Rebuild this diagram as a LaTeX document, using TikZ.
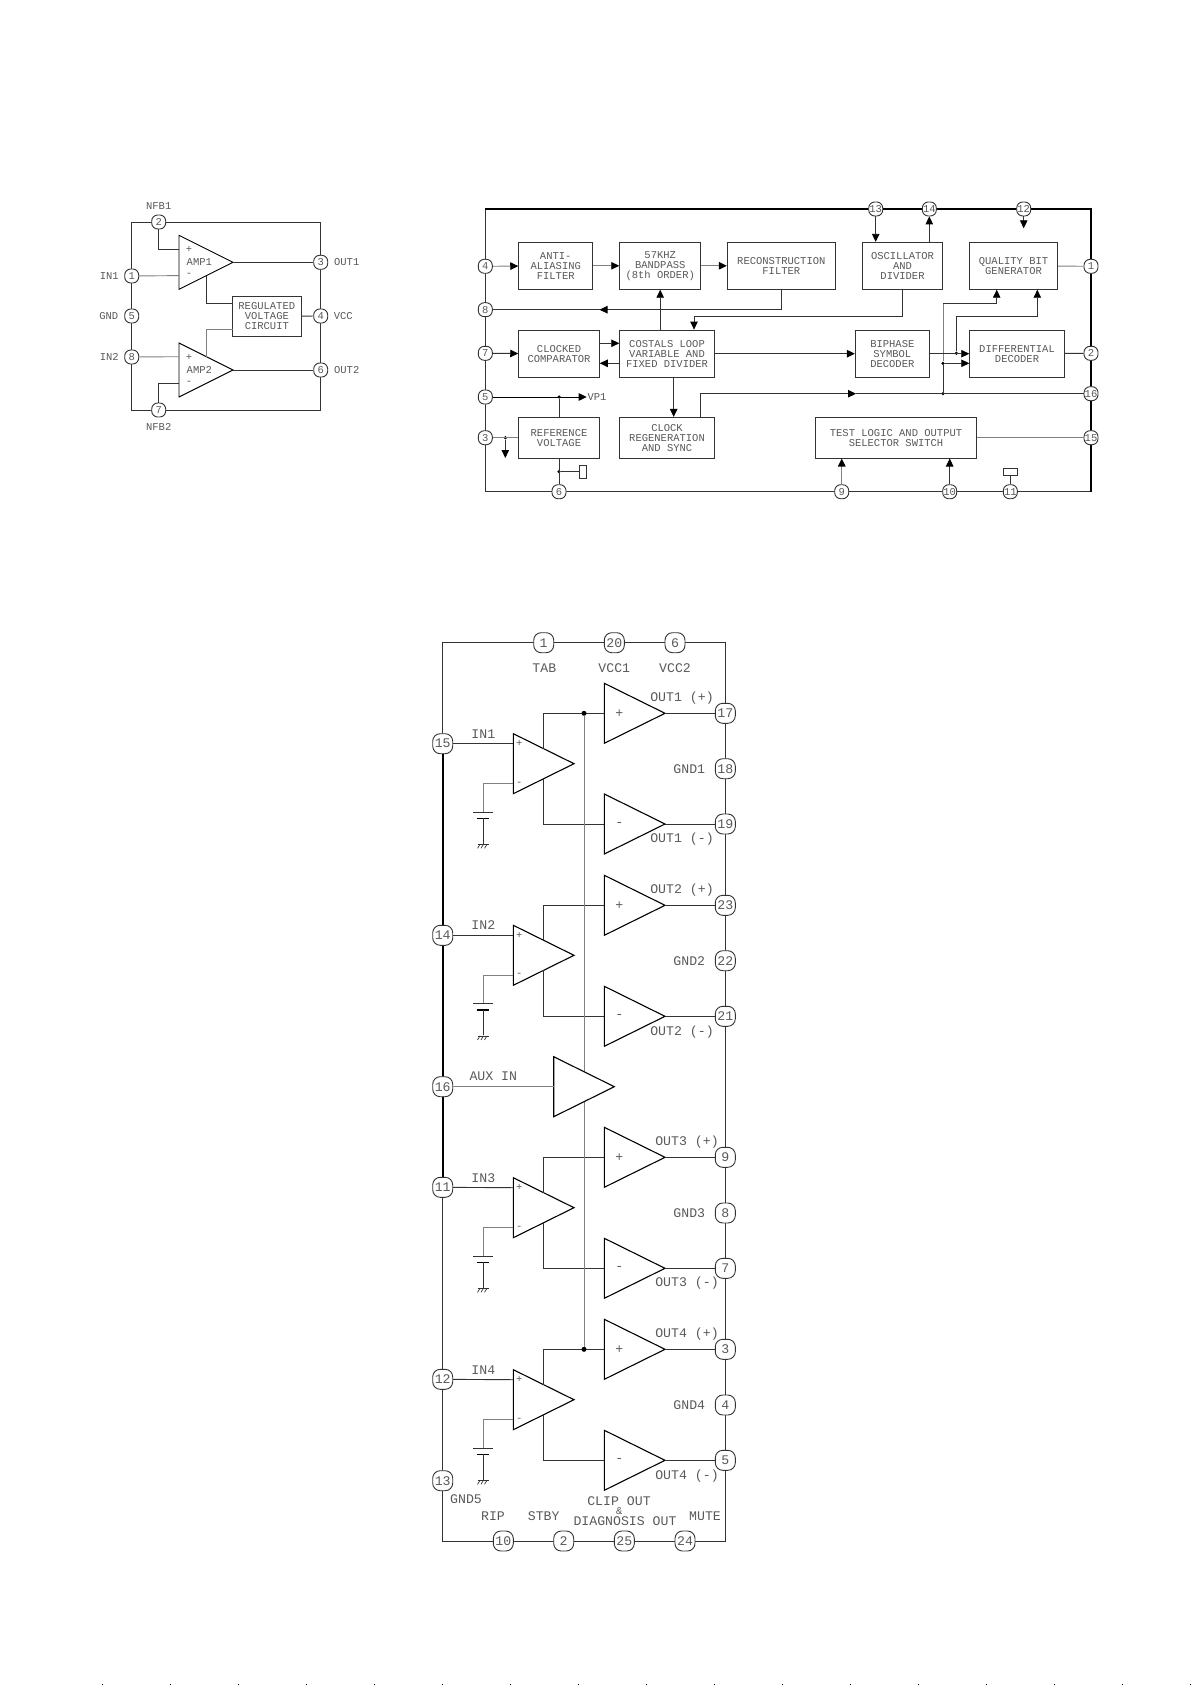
\documentclass[tikz,border=0pt]{standalone}
\usepackage{fontspec}
\setmainfont{Liberation Mono}
\usetikzlibrary{arrows.meta}
\colorlet{wire}{black!80}
\colorlet{faint}{black!50}
\colorlet{ink}{black!65}
\newcommand{\smalltext}{\fontsize{10.5}{10}\selectfont}
\newcommand{\bigtext}{\fontsize{13.2}{10}\selectfont}
\tikzset{
	wire/.style = {draw = wire, line width = 0.9pt},
	faintwire/.style = {draw = faint, line width = 0.9pt},
	heavy/.style = {draw = black, line width = 1.6pt},
	pina/.style = {draw = wire, line width = 0.9pt, fill = white, rounded corners = 6pt, minimum size = 14pt, inner sep = 0pt, text = ink, font = \smalltext},
	pinb/.style = {draw = wire, line width = 0.9pt, fill = white, rounded corners = 7.5pt, minimum size = 20pt, inner sep = 0pt, text = ink, font = \bigtext},
	block/.style = {draw = wire, line width = 0.9pt, fill = white, align = center, inner sep = 0pt, text = ink, font = \smalltext},
	txta/.style = {inner sep = 0pt, text = ink, font = \smalltext},
	txtb/.style = {inner sep = 0pt, text = ink, font = \bigtext},
	dota/.style = {circle, fill = black, minimum size = 3.5pt, inner sep = 0pt},
	dotb/.style = {circle, fill = black, minimum size = 5pt, inner sep = 0pt},
	amp/.style = {draw = black, line width = 1.1pt, fill = white, line join = miter}
}

\begin{document}
\begin{tikzpicture}[x = 1pt, y = -1pt, > = {Triangle[length = 8pt, width = 7.5pt, color = black]}]

	\useasboundingbox (0,0) rectangle (1191,1685);

	% Two amplifier package, top left

	\draw [wire] (131.7,222) rectangle (320.7,410);

	\foreach \n/\x/\y/\t in {a2/158.7/222/2, a1/131.7/276/1, a5/131.7/316/5, a8/131.7/357/8, a7/158.7/410/7, a3/320.7/262.3/3, a4/320.7/316/4, a6/320.7/370/6}
		\node [pina] (\n) at (\x,\y) {\t};

	\foreach \n/\y in {ampa/262.3, ampb/370}{
		\draw [amp, line width = 0.9pt] (179,\y-27) -- (233,\y) -- (179,\y+27) -- cycle;
		\coordinate (\n-tip) at (233,\y);
		\coordinate (\n-p) at (179,\y-13.3);
		\coordinate (\n-m) at (179,\y+13.3);
		\coordinate (\n-hi) at (206.3,\y-13.5);
		\coordinate (\n-lo) at (206.3,\y+13.5);
		\node [txta] (\n-plus) at (189,\y-13) {+};
		\node [txta] (\n-minus) at (189,\y+13) {-};
	}
	\node [txta] (ampa-txt) at (199.3,262.3) {AMP1};
	\node [txta] (ampb-txt) at (199.3,370) {AMP2};

	\node [block, minimum width = 68.3pt, minimum height = 39.3pt] (reg) at (266.8,316.3) {REGULATED\\VOLTAGE\\CIRCUIT};
	\coordinate (reg-u) at (232.7,303);
	\coordinate (reg-d) at (232.7,329);

	\draw [wire] (a2) |- (ampa-p);
	\draw [faintwire] (a1) -- (ampa-m);
	\draw [faintwire] (a8) -- (ampb-p);
	\draw [wire] (a7) |- (ampb-m);
	\draw [wire] (ampa-tip) -- (a3);
	\draw [wire] (ampb-tip) -- (a6);
	\draw [wire] (reg) -- (a4);
	\draw [wire] (reg-u) -| (ampa-lo);
	\draw [faintwire] (reg-d) -| (ampb-hi);

	\foreach \n/\x/\y/\t in {nfba/158.7/206/NFB1, nfbb/158.7/427.3/NFB2, ina/109.3/276/IN1, gnd/108.7/316/GND, inb/109.3/357/IN2, outa/346.7/262.3/OUT1, vcc/343.3/316/VCC, outb/346.7/370/OUT2}
		\node [txta] (\n) at (\x,\y) {\t};

	% Decoder package, top right

	\draw [wire] (485.3,209) rectangle (1091,491.7);
	\draw [heavy] (485.3,209) -- (1091,209) -- (1091,491.7);

	\foreach \n/\x/\y/\t in {b4/485.3/266.3/4, b8/485.3/309.7/8, b7/485.3/353.3/7, b5/485.3/397/5, b3/485.3/437.7/3, b6/559/491.7/6, b9/841.7/491.7/9, b10/949.7/491.7/10, b11/1010.3/491.7/11, b13/875.7/209/13, b14/929.3/209/14, b12/1023.7/209/12, b1/1091/266.3/1, b2/1091/353.3/2, b16/1091/393.7/16, b15/1091/437.7/15}
		\node [pina] (\n) at (\x,\y) {\t};

	\node [block, minimum width = 74pt, minimum height = 47pt] (anti) at (555.7,265.8) {ANTI-\\ALIASING\\FILTER};
	\node [block, minimum width = 81pt, minimum height = 47pt] (band) at (660.2,265.8) {57KHZ\\BANDPASS\\(8th ORDER)};
	\node [block, minimum width = 108pt, minimum height = 47pt] (recon) at (781.3,265.8) {RECONSTRUCTION\\FILTER};
	\node [block, minimum width = 80.4pt, minimum height = 47pt] (osc) at (902.5,265.8) {OSCILLATOR\\AND\\DIVIDER};
	\node [block, minimum width = 87.6pt, minimum height = 47pt] (qual) at (1013.5,265.8) {QUALITY BIT\\GENERATOR};
	\node [block, minimum width = 80.6pt, minimum height = 47.3pt] (comp) at (559,353.7) {CLOCKED\\COMPARATOR};
	\node [block, minimum width = 94.6pt, minimum height = 47.3pt] (cost) at (667,353.7) {COSTALS LOOP\\VARIABLE AND\\FIXED DIVIDER};
	\node [block, minimum width = 74pt, minimum height = 47.3pt] (biph) at (892.3,353.7) {BIPHASE\\SYMBOL\\DECODER};
	\node [block, minimum width = 94.6pt, minimum height = 47.3pt] (diff) at (1017,353.7) {DIFFERENTIAL\\DECODER};
	\node [block, minimum width = 80.6pt, minimum height = 40.7pt] (refv) at (559,437.7) {REFERENCE\\VOLTAGE};
	\node [block, minimum width = 94.6pt, minimum height = 40.7pt] (regen) at (667,437.7) {CLOCK\\REGENERATION\\AND SYNC};
	\node [block, minimum width = 161.4pt, minimum height = 40.7pt] (test) at (896,437.7) {TEST LOGIC AND OUTPUT\\SELECTOR SWITCH};

	\node [dota] (d5) at (559,397) {};
	\node [dota] (d3) at (505.3,437.7) {};
	\node [dota] (d6) at (559,471.7) {};
	\node [dota] (d16) at (943,393.7) {};
	\node [dota] (dd) at (943,363.3) {};
	\node [dota] (dq) at (956.3,353.3) {};

	\coordinate (vp) at (586.7,397);
	\coordinate (g3) at (505.3,458);
	\coordinate (g12) at (1023.7,228.3);
	\coordinate (m8) at (599.5,309.7);
	\coordinate (m16) at (856,393.7);
	\coordinate (k1) at (781.7,309.7);
	\coordinate (k2) at (902.3,316.3);
	\coordinate (k3) at (694,316.3);
	\coordinate (k4) at (700.3,393.7);
	\coordinate (k5) at (943,303);
	\coordinate (k6) at (996.7,303);
	\coordinate (k7) at (956.3,316.3);
	\coordinate (k8) at (1037.3,316.3);

	% Signal path

	\draw [faintwire, ->] (b4) -- (anti);
	\draw [faintwire, ->] (anti) -- (band);
	\draw [faintwire, ->] (band) -- (recon);
	\draw [wire, ->] (recon.south -| k1) -- (k1) -- (m8);
	\draw [wire] (m8) -- (b8);
	\draw [wire, ->] (cost.north -| band) -- (band);
	\draw [wire, ->] (osc) |- (k3) -- (cost.north -| k3);
	\draw [wire, ->] (b7) -- (comp);
	\draw [wire, ->] (comp.east |- 0,343.3) -- (cost.west |- 0,343.3);
	\draw [wire, ->] (cost.west |- 0,363.3) -- (comp.east |- 0,363.3);
	\draw [wire, ->] (cost) -- (biph);
	\draw [wire, ->] (cost.south -| 673.7,0) -- (regen.north -| 673.7,0);
	\draw [wire, ->] (regen.north -| k4) -- (k4) -- (m16);
	\draw [wire] (m16) -- (b16);
	\draw [wire] (d16) -- (dd);
	\draw [faintwire] (dd) -- (k5);
	\draw [wire, ->] (k5) -- (k6) -- (qual.south -| k6);
	\draw [wire, ->] (dd) -- (diff.west |- dd);
	\draw [wire, ->] (biph) -- (diff);
	\draw [wire, ->] (dq) -- (k7) -- (k8) -- (qual.south -| k8);
	\draw [faintwire] (qual) -- (b1);
	\draw [wire] (diff) -- (b2);
	\draw [faintwire] (test) -- (b15);

	% Supply and control pins

	\draw [draw = black, line width = 0.9pt, ->] (b5) -- (vp);
	\node [txta, anchor = west] (vpa) at (587.3,397) {VP1};
	\draw [wire] (refv.north -| d5) -- (d5);
	\draw [faintwire] (b3) -- (refv);
	\draw [wire, ->] (d3) -- (g3);
	\draw [wire] (refv.south -| d6) -- (b6);
	\draw [wire] (d6) -- (579.3,471.7);
	\draw [wire, fill = white] (579.3,465) rectangle (586,478.3);
	\draw [draw = faint, line width = 1.4pt, ->] (b9) -- (test.south -| b9);
	\draw [wire, ->] (b10) -- (test.south -| b10);
	\draw [wire] (b11) -- (1010.3,475);
	\draw [wire, fill = white] (1003.3,468.3) rectangle (1017.3,475);
	\draw [wire, ->] (b13) -- (osc.north -| b13);
	\draw [wire, ->] (osc.north -| b14) -- (b14);
	\draw [wire, ->] (b12) -- (g12);

	% Power amplifier package, bottom

	\draw [wire] (442.7,642.7) rectangle (725.3,1541);
	\draw [heavy] (442.7,743.7) -- (442.7,1187.3);

	\foreach \n/\x/\y/\t in {c1/543.7/642.7/1, c20/614.3/642.7/20, c6/675/642.7/6, c15/442.7/743.7/15, c14/442.7/935.3/14, c16/442.7/1086.7/16, c11/442.7/1187.3/11, c12/442.7/1379.3/12, c13/442.7/1480.7/13, c17/725.3/713.3/17, c18/725.3/768.7/18, c19/725.3/824/19, c23/725.3/905.3/23, c22/725.3/960.7/22, c21/725.3/1016.3/21, c9/725.3/1157.3/9, c8/725.3/1213/8, c7/725.3/1268.3/7, c3/725.3/1349.3/3, c4/725.3/1405/4, c5/725.3/1460.3/5, c10/503.3/1541/10, c2/563.7/1541/2, c25/624.3/1541/25, c24/685/1541/24}
		\node [pinb] (\n) at (\x,\y) {\t};

	% Output stages

	\foreach \n/\y/\s in {c17/713.3/+, c19/824/-, c23/905.3/+, c21/1016.3/-, c9/1157.3/+, c7/1268.3/-, c3/1349.3/+, c5/1460.3/-}{
		\draw [amp] (604.3,\y-30) -- (665,\y) -- (604.3,\y+30) -- cycle;
		\coordinate (\n-in) at (604.3,\y);
		\coordinate (\n-tip) at (665,\y);
		\node [txtb] (\n-sign) at (619.3,\y) {\s};
		\draw [wire] (\n-tip) -- (\n);
	}

	% Input stages

	\foreach \n/\y/\pin/\up/\dn in {ia/763.7/c15/c17/c19, ib/955.3/c14/c23/c21, ic/1207.7/c11/c9/c7, id/1399.7/c12/c3/c5}{
		\draw [amp] (513.3,\y-30) -- (574,\y) -- (513.3,\y+30) -- cycle;
		\coordinate (\n-p) at (513.3,\y-20);
		\coordinate (\n-m) at (513.3,\y+20);
		\coordinate (\n-g) at (483.3,\y+20);
		\node [txta] (\n-plus) at (519.3,\y-20) {+};
		\node [txta] (\n-minus) at (519.3,\y+20) {-};
		\draw [wire] (\pin) -- (\n-p);
		\draw [wire] (574-30.35,\y-15) |- (\up-in);
		\draw [wire] (574-30.35,\y+15) |- (\dn-in);
		\draw [faintwire] (\n-m) -- (\n-g) -- ++(0,28.6);
		\draw [wire] (473.3,\y+48.6) -- (493.3,\y+48.6);
		\draw [black, line width = 1.6pt] (476.7,\y+54.6) -- (489.3,\y+54.6);
		\draw [wire] (483.3,\y+54.6) -- (483.3,\y+80);
		\draw [wire, line width = 0.7pt] (477.5,\y+80.6) -- (488.5,\y+80.6);
		\foreach \h in {480,483.5,487}
			\draw [wire, line width = 0.7pt] (\h,\y+80.6) -- (\h-2.5,\y+84.6);
	}

	% Common bus and auxiliary input

	\node [dotb] (bt) at (584,713.3) {};
	\node [dotb] (bb) at (584,1349.3) {};
	\draw [faintwire] (bt) -- (bb);
	\draw [amp] (553.7,1056.7) -- (614.3,1086.7) -- (553.7,1116.7) -- cycle;
	\coordinate (aux-in) at (553.7,1086.7);
	\draw [faintwire] (c16) -- (aux-in);

	\foreach \n/\x/\y/\t in {tab/544.3/667.7/TAB, vcca/614.3/667.7/VCC1, vccb/675/667.7/VCC2, ina3/483.3/734/IN1, ina4/483.3/925.3/IN2, ina5/483.3/1178/IN3, ina6/483.3/1370/IN4, auxt/493.3/1076.7/AUX IN, oa/682/698.3/OUT1 (+), ob/682/839.3/OUT1 (-), oc/682/890/OUT2 (+), od/682/1031.7/OUT2 (-), oe/687/1142.3/OUT3 (+), of/687/1283.3/OUT3 (-), og/687/1334.3/OUT4 (+), oh/687/1475.7/OUT4 (-), ga/689.3/769.3/GND1, gb/689.3/961/GND2, gc/689.3/1213/GND3, gd/689.3/1405/GND4, ge/466/1499.3/GND5, rip/493/1516/RIP, stby/543.7/1516/STBY, clip/619/1501/CLIP OUT, diag/625/1521.3/DIAGNOSIS OUT, mute/705/1516/MUTE}
		\node [txtb] (\n) at (\x,\y) {\t};
	\node [txta] (amps) at (619.3,1510.7) {\&};

	% Specks along the bottom edge

	\foreach \x in {102,170,238,306,374,442,510,578,646,714,782,850,918,986,1054,1122,1190}
		\fill [black] (\x-0.5,1684) rectangle (\x+0.5,1685);

\end{tikzpicture}
\end{document}
